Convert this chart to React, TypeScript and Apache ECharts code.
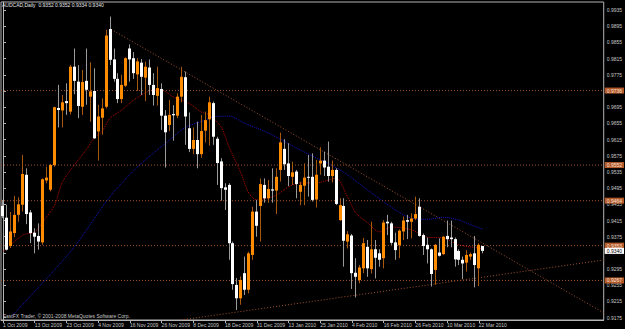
import React, { useEffect, useRef } from 'react';
import * as echarts from 'echarts';

// ---- OHLC (AUDCAD daily, bar 0 = 1 Oct 2009) ----
const open = [
  0.9451, 0.9422, 0.9352, 0.9384, 0.9429, 0.9454, 0.9528, 0.9435, 0.9385, 0.9377,
  0.9361, 0.9514, 0.9491, 0.9552, 0.9693, 0.9687, 0.9710, 0.9684, 0.9795, 0.9758,
  0.9696, 0.9760, 0.9721, 0.9735, 0.9635, 0.9669, 0.9696, 0.9888, 0.9813, 0.9765,
  0.9715, 0.9748, 0.9840, 0.9816, 0.9776, 0.9805, 0.9768, 0.9793, 0.9750, 0.9723,
  0.9740, 0.9674, 0.9651, 0.9678, 0.9674, 0.9721, 0.9769, 0.9643, 0.9592, 0.9614,
  0.9579, 0.9637, 0.9665, 0.9705, 0.9617, 0.9561, 0.9497, 0.9503, 0.9359, 0.9256,
  0.9223, 0.9285, 0.9244, 0.9330, 0.9437, 0.9451, 0.9503, 0.9470, 0.9492, 0.9489,
  0.9540, 0.9592, 0.9556, 0.9523, 0.9536, 0.9486, 0.9501, 0.9523, 0.9523, 0.9467,
  0.9556, 0.9563, 0.9548, 0.9525, 0.9540, 0.9416, 0.9451, 0.9363, 0.9378, 0.9286,
  0.9268, 0.9297, 0.9350, 0.9295, 0.9344, 0.9334, 0.9322, 0.9412, 0.9408, 0.9361,
  0.9354, 0.9388, 0.9416, 0.9412, 0.9420, 0.9449, 0.9379, 0.9355, 0.9344, 0.9293,
  0.9336, 0.9332, 0.9377, 0.9373, 0.9369, 0.9340, 0.9318, 0.9311, 0.9326, 0.9334,
  0.9297, 0.9352,
];
const high = [
  0.9466, 0.9454, 0.9436, 0.9476, 0.9472, 0.9577, 0.9544, 0.9441, 0.9396, 0.9408,
  0.9519, 0.9548, 0.9555, 0.9696, 0.9750, 0.9725, 0.9754, 0.9799, 0.9840, 0.9799,
  0.9787, 0.9840, 0.9806, 0.9791, 0.9701, 0.9717, 0.9886, 0.9919, 0.9840, 0.9779,
  0.9775, 0.9818, 0.9850, 0.9831, 0.9816, 0.9814, 0.9807, 0.9813, 0.9779, 0.9795,
  0.9754, 0.9688, 0.9713, 0.9700, 0.9729, 0.9795, 0.9783, 0.9682, 0.9645, 0.9659,
  0.9676, 0.9684, 0.9721, 0.9709, 0.9622, 0.9569, 0.9507, 0.9507, 0.9363, 0.9273,
  0.9277, 0.9326, 0.9338, 0.9449, 0.9466, 0.9519, 0.9519, 0.9515, 0.9544, 0.9544,
  0.9632, 0.9616, 0.9606, 0.9560, 0.9540, 0.9511, 0.9556, 0.9577, 0.9581, 0.9565,
  0.9596, 0.9585, 0.9610, 0.9563, 0.9544, 0.9470, 0.9470, 0.9389, 0.9382, 0.9322,
  0.9305, 0.9372, 0.9367, 0.9412, 0.9367, 0.9344, 0.9416, 0.9429, 0.9412, 0.9385,
  0.9393, 0.9425, 0.9429, 0.9433, 0.9474, 0.9470, 0.9383, 0.9373, 0.9346, 0.9357,
  0.9371, 0.9377, 0.9415, 0.9415, 0.9373, 0.9344, 0.9326, 0.9342, 0.9336, 0.9377,
  0.9359, 0.9352,
];
const low = [
  0.9421, 0.9341, 0.9347, 0.9374, 0.9412, 0.9437, 0.9406, 0.9359, 0.9334, 0.9343,
  0.9355, 0.9507, 0.9487, 0.9548, 0.9645, 0.9645, 0.9676, 0.9677, 0.9727, 0.9668,
  0.9676, 0.9701, 0.9659, 0.9617, 0.9563, 0.9627, 0.9692, 0.9799, 0.9758, 0.9705,
  0.9705, 0.9745, 0.9758, 0.9765, 0.9735, 0.9725, 0.9710, 0.9725, 0.9699, 0.9699,
  0.9639, 0.9546, 0.9636, 0.9612, 0.9668, 0.9707, 0.9602, 0.9584, 0.9579, 0.9544,
  0.9570, 0.9608, 0.9600, 0.9602, 0.9503, 0.9464, 0.9441, 0.9318, 0.9244, 0.9194,
  0.9207, 0.9231, 0.9235, 0.9318, 0.9375, 0.9363, 0.9459, 0.9459, 0.9459, 0.9431,
  0.9511, 0.9540, 0.9500, 0.9503, 0.9470, 0.9453, 0.9453, 0.9474, 0.9462, 0.9447,
  0.9528, 0.9525, 0.9511, 0.9509, 0.9453, 0.9414, 0.9301, 0.9346, 0.9246, 0.9225,
  0.9260, 0.9285, 0.9276, 0.9284, 0.9272, 0.9301, 0.9297, 0.9379, 0.9355, 0.9318,
  0.9322, 0.9367, 0.9369, 0.9371, 0.9416, 0.9375, 0.9330, 0.9309, 0.9252, 0.9256,
  0.9326, 0.9330, 0.9349, 0.9349, 0.9301, 0.9305, 0.9270, 0.9289, 0.9318, 0.9250,
  0.9253, 0.9334,
];
const close = [
  0.9426, 0.9343, 0.9388, 0.9429, 0.9455, 0.9530, 0.9431, 0.9384, 0.9375, 0.9363,
  0.9517, 0.9521, 0.9552, 0.9695, 0.9688, 0.9707, 0.9705, 0.9795, 0.9760, 0.9698,
  0.9757, 0.9738, 0.9734, 0.9618, 0.9672, 0.9692, 0.9872, 0.9812, 0.9765, 0.9715,
  0.9750, 0.9816, 0.9813, 0.9779, 0.9808, 0.9770, 0.9795, 0.9750, 0.9725, 0.9742,
  0.9674, 0.9633, 0.9676, 0.9675, 0.9721, 0.9770, 0.9672, 0.9592, 0.9614, 0.9579,
  0.9636, 0.9663, 0.9707, 0.9622, 0.9557, 0.9495, 0.9491, 0.9359, 0.9258, 0.9223,
  0.9268, 0.9244, 0.9334, 0.9437, 0.9402, 0.9505, 0.9470, 0.9493, 0.9489, 0.9523,
  0.9608, 0.9554, 0.9525, 0.9534, 0.9505, 0.9503, 0.9521, 0.9521, 0.9466, 0.9528,
  0.9563, 0.9546, 0.9525, 0.9540, 0.9456, 0.9453, 0.9365, 0.9381, 0.9285, 0.9276,
  0.9299, 0.9359, 0.9297, 0.9344, 0.9323, 0.9318, 0.9410, 0.9408, 0.9360, 0.9342,
  0.9390, 0.9415, 0.9412, 0.9420, 0.9431, 0.9377, 0.9352, 0.9344, 0.9283, 0.9355,
  0.9328, 0.9375, 0.9369, 0.9369, 0.9319, 0.9318, 0.9309, 0.9330, 0.9332, 0.9305,
  0.9355, 0.9340,
];

// ---- x axis date labels (every 8 bars) ----
const dateLabels = [
  '1 Oct 2009', '13 Oct 2009', '23 Oct 2009', '4 Nov 2009', '16 Nov 2009', '26 Nov 2009',
  '8 Dec 2009', '18 Dec 2009', '31 Dec 2009', '13 Jan 2010', '25 Jan 2010', '4 Feb 2010',
  '16 Feb 2010', '26 Feb 2010', '10 Mar 2010', '22 Mar 2010',
];
const LABEL_STEP = 8;
const TOTAL_SLOTS = 152;

// ---- y axis ticks; labels hidden where the reference covers them with a price box ----
const yTicks = [
  0.9175, 0.9215, 0.9255, 0.9295, 0.9335, 0.9375, 0.9415, 0.9455, 0.9495, 0.9535,
  0.9575, 0.9615, 0.9655, 0.9695, 0.9735, 0.9775, 0.9815, 0.9855, 0.9895, 0.9935,
];
const yLabels = [
  0.9175, 0.9215, 0.9255, 0.9295, 0.9375, 0.9415, 0.9455, 0.9495, 0.9535,
  0.9575, 0.9615, 0.9655, 0.9695, 0.9775, 0.9815, 0.9855, 0.9895, 0.9935,
];
const Y_MIN = 0.91693;
const Y_MAX = 0.99548;

// ---- moving averages ----
const redIdx = [0, 5, 8, 10, 13, 15, 18, 21, 23, 25, 27, 30, 33, 37, 40, 43, 47, 50, 52, 55, 57, 60, 62, 64, 67, 69, 72, 75, 79, 82, 84, 87, 89, 92, 95, 98, 103, 107, 111, 115, 120, 121];
const redVal = [0.9338, 0.9379, 0.9387, 0.9411, 0.9453, 0.9510, 0.9552, 0.9590, 0.9619, 0.9635, 0.9668, 0.9688, 0.9713, 0.9735, 0.9737, 0.9720, 0.9704, 0.9683, 0.9676, 0.9646, 0.9597, 0.9532, 0.9483, 0.9466, 0.9471, 0.9478, 0.9498, 0.9508, 0.9508, 0.9515, 0.9520, 0.9471, 0.9434, 0.9409, 0.9387, 0.9399, 0.9392, 0.9374, 0.9372, 0.9355, 0.9347, 0.9345];
const blueIdx = [2, 10, 18, 27, 34, 42, 46, 51, 53, 57, 61, 67, 75, 85, 92, 99, 103, 107, 111, 115, 118, 121];
const blueVal = [0.9177, 0.9261, 0.9350, 0.9474, 0.9548, 0.9614, 0.9645, 0.9663, 0.9671, 0.9673, 0.9655, 0.9631, 0.9589, 0.9540, 0.9490, 0.9441, 0.9421, 0.9418, 0.9423, 0.9416, 0.9404, 0.9394];

// ---- drawn objects ----
const levels = [0.9736, 0.9552, 0.9464, 0.9353, 0.9267];
const lastPrice = 0.934;
const trendDownX = [27.3, 151.5];
const trendDownY = [0.9887, 0.9187];
const trendUpX = [44.9, 151.5];
const trendUpY = [0.91693, 0.93175];

const FONT = "'Liberation Sans', Arial, sans-serif";
const FS = 5;

export default function App() {
  const ref = useRef<HTMLDivElement>(null);
  useEffect(() => {
    if (!ref.current) return;
    const chart = echarts.init(ref.current, undefined, { renderer: 'svg' });
    const candles = open.map((o, i) => [i, o, close[i], low[i], high[i]]);
    const cats = Array.from({ length: TOTAL_SLOTS }, (_, i) => String(i));
    const levelSeries = levels.map((v) => ({
      type: 'line',
      xAxisIndex: 1,
      data: [[-0.5, v], [TOTAL_SLOTS - 0.5, v]],
      showSymbol: false,
      silent: true,
      lineStyle: { color: '#A0522D', width: 1, type: [1, 2] },
      endLabel: {
        show: true,
        formatter: () => v.toFixed(4),
        backgroundColor: '#B5592A',
        color: '#F2E2D6',
        fontSize: FS,
        fontFamily: FONT,
        padding: [1, 2, 0, 2],
        distance: 1,
      },
      z: 5,
    }));
    chart.setOption({
      animation: false,
      backgroundColor: '#000000',
      grid: {
        left: 0,
        right: 20,
        top: 2,
        bottom: 9,
        show: true,
        borderColor: '#B4B4B4',
        borderWidth: 1,
        backgroundColor: '#000000',
      },
      xAxis: [
        {
          type: 'category',
          data: cats,
          boundaryGap: true,
          axisLine: { show: true, lineStyle: { color: '#B4B4B4', width: 1 } },
          axisTick: {
            show: true,
            alignWithLabel: true,
            interval: (idx: number) => idx % LABEL_STEP === 0 && idx / LABEL_STEP < dateLabels.length,
            length: 3,
            lineStyle: { color: '#B4B4B4' },
          },
          axisLabel: {
            interval: LABEL_STEP - 1,
            formatter: (_v: string, idx: number) => {
              const k = idx / LABEL_STEP;
              return idx % LABEL_STEP === 0 && k < dateLabels.length ? dateLabels[k] : '';
            },
            color: '#C8C8C8',
            fontSize: FS,
            fontFamily: FONT,
            align: 'left',
            margin: 2,
          },
          splitLine: { show: false },
        },
        { type: 'value', min: -0.5, max: TOTAL_SLOTS - 0.5, show: false },
      ],
      yAxis: {
        type: 'value',
        position: 'right',
        min: Y_MIN,
        max: Y_MAX,
        axisLine: { show: true, lineStyle: { color: '#B4B4B4', width: 1 } },
        axisTick: { show: true, customValues: yTicks, length: 3, lineStyle: { color: '#B4B4B4' } },
        axisLabel: {
          customValues: yLabels,
          formatter: (v: number) => v.toFixed(4),
          color: '#C8C8C8',
          fontSize: FS,
          fontFamily: FONT,
          margin: 3,
        },
        splitLine: { show: false },
      },
      graphic: [
        {
          type: 'text',
          left: 2,
          top: 2,
          style: {
            text: 'AUDCAD,Daily  0.9352 0.9352 0.9334 0.9340',
            fill: '#E6E6E6',
            font: `${FS}px ${FONT}`,
          },
          z: 10,
        },
        {
          type: 'text',
          left: 3,
          top: 313,
          style: {
            text: 'FastFX Trader, © 2001-2008 MetaQuotes Software Corp.',
            fill: '#C8C8C8',
            font: `${FS}px ${FONT}`,
          },
          z: 10,
        },
      ],
      series: [
        ...levelSeries,
        {
          type: 'line',
          xAxisIndex: 1,
          data: trendDownX.map((x, i) => [x, trendDownY[i]]),
          showSymbol: false,
          silent: true,
          lineStyle: { color: '#A0522D', width: 1, type: [1, 2] },
          z: 4,
        },
        {
          type: 'line',
          xAxisIndex: 1,
          data: trendUpX.map((x, i) => [x, trendUpY[i]]),
          showSymbol: false,
          silent: true,
          lineStyle: { color: '#A0522D', width: 1, type: [1, 2] },
          z: 4,
        },
        {
          type: 'line',
          xAxisIndex: 1,
          data: blueIdx.map((x, i) => [x, blueVal[i]]),
          showSymbol: false,
          silent: true,
          smooth: 0.3,
          lineStyle: { color: '#1414C8', width: 1, type: [1, 1] },
          z: 4,
        },
        {
          type: 'line',
          xAxisIndex: 1,
          data: redIdx.map((x, i) => [x, redVal[i]]),
          showSymbol: false,
          silent: true,
          smooth: 0.3,
          lineStyle: { color: '#B80000', width: 1, type: [1, 1] },
          z: 4,
        },
        {
          type: 'custom',
          xAxisIndex: 0,
          data: candles,
          encode: { x: 0, y: [1, 2, 3, 4] },
          silent: true,
          z: 6,
          renderItem: (_p: any, api: any) => {
            const i = api.value(0);
            const o = api.value(1);
            const c = api.value(2);
            const l = api.value(3);
            const h = api.value(4);
            const pO = api.coord([i, o]);
            const pC = api.coord([i, c]);
            const pL = api.coord([i, l]);
            const pH = api.coord([i, h]);
            const col = Math.floor(pO[0]);
            const up = c >= o;
            const top = Math.min(pO[1], pC[1]);
            const bh = Math.max(Math.abs(pO[1] - pC[1]), 1);
            return {
              type: 'group',
              children: [
                {
                  type: 'line',
                  shape: { x1: col + 0.5, y1: pH[1], x2: col + 0.5, y2: pL[1] },
                  style: { stroke: up ? '#A8580C' : '#9A9A9A', lineWidth: 1 },
                },
                {
                  type: 'rect',
                  shape: { x: col - 1, y: top, width: 3, height: bh },
                  style: { fill: up ? '#FF8C00' : '#FFFFFF' },
                },
              ],
            };
          },
        },
        {
          type: 'line',
          xAxisIndex: 1,
          data: [[-0.5, lastPrice], [TOTAL_SLOTS - 0.5, lastPrice]],
          showSymbol: false,
          silent: true,
          lineStyle: { opacity: 0 },
          endLabel: {
            show: true,
            formatter: () => lastPrice.toFixed(4),
            backgroundColor: '#FFFFFF',
            color: '#000000',
            fontSize: FS,
            fontFamily: FONT,
            padding: [1, 2, 0, 2],
            distance: 1,
          },
          z: 7,
        },
      ],
    });
    return () => chart.dispose();
  }, []);
  return (
    <div
      ref={ref}
      style={{ position: 'fixed', left: 0, top: 0, width: 625, height: 329, background: '#000' }}
    />
  );
}
